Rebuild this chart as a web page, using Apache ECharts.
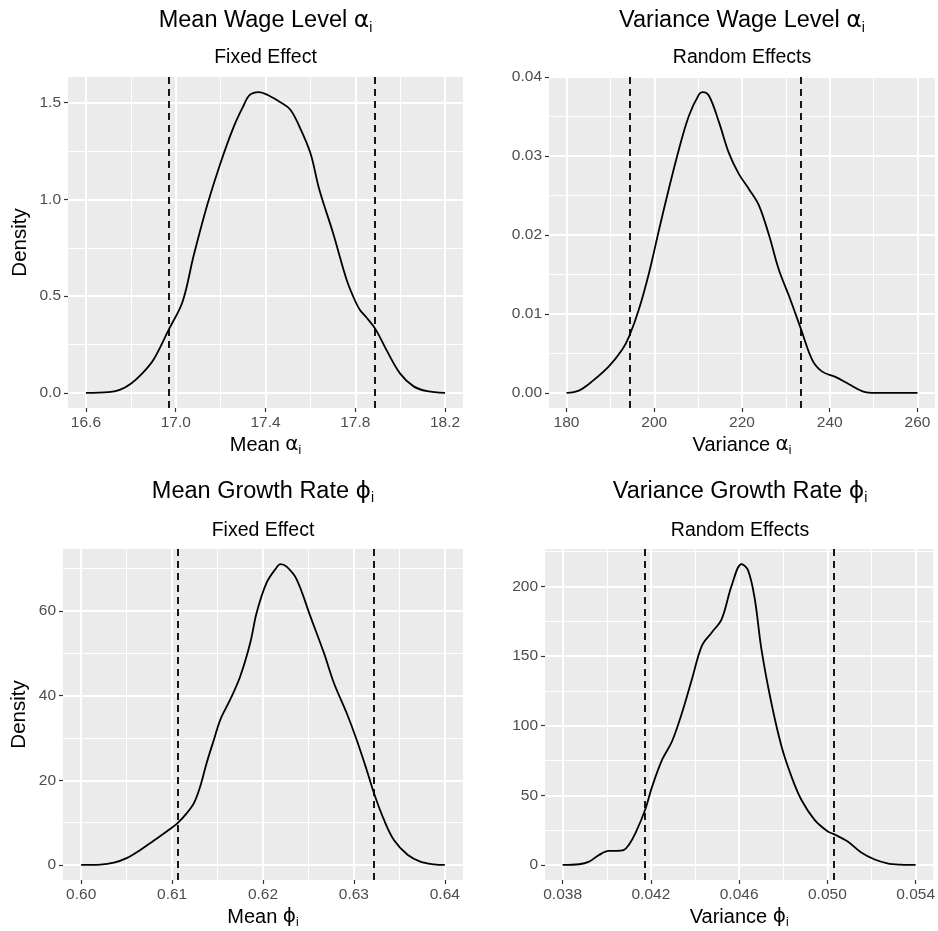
<!DOCTYPE html>
<html><head><meta charset="utf-8">
<script src="https://cdn.jsdelivr.net/npm/echarts@6/dist/echarts.min.js"></script>
<style>html,body{margin:0;padding:0;background:#fff}#chart{width:938px;height:931px}</style>
</head><body><div id="chart"></div>
<script>
// ---------- DATA ----------
const meanWageDensity = [[16.60,0],[16.70,0.004],[16.75,0.016],[16.80,0.048],[16.85,0.10],[16.90,0.17],[16.97,0.33],[17.03,0.47],[17.08,0.71],[17.14,0.97],[17.20,1.19],[17.26,1.38],[17.30,1.48],[17.33,1.54],[17.37,1.555],[17.41,1.54],[17.47,1.50],[17.51,1.465],[17.55,1.38],[17.60,1.24],[17.64,1.05],[17.70,0.83],[17.76,0.59],[17.79,0.50],[17.82,0.43],[17.85,0.39],[17.89,0.33],[17.94,0.22],[18.00,0.10],[18.06,0.034],[18.12,0.009],[18.20,0]];
const meanWageInterval = [16.971, 17.889];
const meanWageXTicks = [16.6, 17.0, 17.4, 17.8, 18.2];
const meanWageXMinor = [16.8, 17.2, 17.6, 18.0];
const meanWageYTicks = [0, 0.5, 1.0, 1.5];
const meanWageYMinor = [0.25, 0.75, 1.25];

const varWageDensity = [[180,0],[182.8,0.0003],[185.9,0.0015],[189.7,0.0034],[192.7,0.0055],[194.3,0.0072],[196.5,0.0106],[198.8,0.0152],[201.1,0.0207],[203.3,0.0258],[205.6,0.0308],[207.9,0.0351],[210.2,0.0378],[211.0,0.0381],[212.5,0.0376],[214.8,0.0342],[217.0,0.0304],[219.3,0.0277],[221.6,0.0258],[223.9,0.0237],[226.2,0.0199],[228.4,0.0156],[230.7,0.0123],[233.5,0.0080],[236.0,0.0042],[238.3,0.0027],[241.4,0.0020],[244.4,0.0011],[247.5,0.0002],[250.5,0],[260,0]];
const varWageInterval = [194.3, 233.5];
const varWageXTicks = [180, 200, 220, 240, 260];
const varWageXMinor = [190, 210, 230, 250];
const varWageYTicks = [0, 0.01, 0.02, 0.03, 0.04];
const varWageYMinor = [0.005, 0.015, 0.025, 0.035];

const meanGrowthDensity = [[0.600,0],[0.6021,0.08],[0.6036,0.55],[0.6050,1.6],[0.6065,3.55],[0.6080,5.8],[0.6094,7.9],[0.6106,9.9],[0.6116,12.2],[0.6124,14.6],[0.6131,18.6],[0.6138,24.1],[0.6146,29.6],[0.6153,34.3],[0.6164,39.1],[0.6175,44.6],[0.6186,52.5],[0.6193,59.6],[0.6204,66.7],[0.6215,70.3],[0.6219,71.1],[0.6226,70.5],[0.6237,67.5],[0.6252,58.8],[0.6267,50.1],[0.6278,43.0],[0.6292,35.9],[0.6303,29.6],[0.6314,22.5],[0.6322,17.0],[0.6333,10.7],[0.6344,5.9],[0.6359,2.4],[0.6373,0.8],[0.6388,0.16],[0.640,0]];
const meanGrowthInterval = [0.6106, 0.6322];
const meanGrowthXTicks = [0.60, 0.61, 0.62, 0.63, 0.64];
const meanGrowthXMinor = [0.605, 0.615, 0.625, 0.635];
const meanGrowthYTicks = [0, 20, 40, 60];
const meanGrowthYMinor = [10, 30, 50, 70];

const varGrowthDensity = [[0.0380,0],[0.03875,0.5],[0.0392,2.4],[0.03965,7.2],[0.0401,10.1],[0.0404,10.1],[0.04078,10.8],[0.0410,14.4],[0.0413,22.8],[0.04174,39.6],[0.04206,56.4],[0.04251,75.6],[0.04296,88.8],[0.04341,109.2],[0.04386,133.3],[0.04431,157.3],[0.04476,166.9],[0.04521,176.5],[0.04566,200.5],[0.04611,216],[0.04641,211.3],[0.04671,190.9],[0.04701,154.9],[0.04746,116.4],[0.04792,85.2],[0.04837,63.6],[0.04882,46.8],[0.04942,32.4],[0.05002,24],[0.05027,22.3],[0.05092,16.8],[0.05152,9.1],[0.05212,4.1],[0.05272,1.2],[0.05332,0.24],[0.0540,0]];
const varGrowthInterval = [0.04174, 0.05028];
const varGrowthXTicks = [0.038, 0.042, 0.046, 0.050, 0.054];
const varGrowthXMinor = [0.040, 0.044, 0.048, 0.052];
const varGrowthYTicks = [0, 50, 100, 150, 200];
const varGrowthYMinor = [25, 75, 125, 175, 225];

const panelTitles = ['Mean Wage Level {g|α}{s|i}', 'Variance Wage Level {g|α}{s|i}', 'Mean Growth Rate {g|ϕ}{s|i}', 'Variance Growth Rate {g|ϕ}{s|i}'];
const panelSubtitles = ['Fixed Effect', 'Random Effects', 'Fixed Effect', 'Random Effects'];
const xAxisTitles = ['Mean {g|α}{s|i}', 'Variance {g|α}{s|i}', 'Mean {g|ϕ}{s|i}', 'Variance {g|ϕ}{s|i}'];
const yAxisTitles = ['Density', '', 'Density', ''];

// ---------- LAYOUT / STYLE ----------
const FONT = '"Liberation Sans", Arial, Helvetica, sans-serif';
const layout = [
  {grid:{left:68, top:77, width:395, height:331}, titleTop:7, subTop:46, xDec:1, yDec:1, yNameGap:37},
  {grid:{left:549, top:77, width:386, height:331}, titleTop:7, subTop:46, xDec:0, yDec:2, yNameGap:37},
  {grid:{left:63, top:549, width:400, height:331}, titleTop:477.5, subTop:519, xDec:2, yDec:0, yNameGap:33},
  {grid:{left:545, top:549, width:390, height:331}, titleTop:477.5, subTop:519, xDec:3, yDec:0, yNameGap:33}
];
const panelData = [
  {d:meanWageDensity, ci:meanWageInterval, xt:meanWageXTicks, xm:meanWageXMinor, yt:meanWageYTicks, ym:meanWageYMinor},
  {d:varWageDensity, ci:varWageInterval, xt:varWageXTicks, xm:varWageXMinor, yt:varWageYTicks, ym:varWageYMinor},
  {d:meanGrowthDensity, ci:meanGrowthInterval, xt:meanGrowthXTicks, xm:meanGrowthXMinor, yt:meanGrowthYTicks, ym:meanGrowthYMinor},
  {d:varGrowthDensity, ci:varGrowthInterval, xt:varGrowthXTicks, xm:varGrowthXMinor, yt:varGrowthYTicks, ym:varGrowthYMinor}
];

function richFor(size, lh){
  return {
    g:{fontSize:size, fontFamily:'"DejaVu Sans", sans-serif', color:'#000', lineHeight:lh, verticalAlign:'middle'},
    s:{fontSize:Math.round(size*0.6), fontFamily:FONT, color:'#000', lineHeight:Math.round(size*0.6), verticalAlign:'bottom'}
  };
}

const grids = [], xAxes = [], yAxes = [], series = [], titles = [];
panelData.forEach((p, i) => {
  const L = layout[i];
  const xs = p.d.map(v => v[0]), ys = p.d.map(v => v[1]);
  const xmin = Math.min(...xs), xmax = Math.max(...xs);
  const ymin = Math.min(0, ...ys), ymax = Math.max(...ys);
  const xe = (xmax - xmin) * 0.05, ye = (ymax - ymin) * 0.05;
  const xr = [xmin - xe, xmax + xe], yr = [ymin - ye, ymax + ye];
  const cx = L.grid.left + L.grid.width / 2;
  grids.push(Object.assign({show:true, backgroundColor:'#EBEBEB', borderWidth:0}, L.grid));
  titles.push({text:panelTitles[i], left:cx, top:L.titleTop, textAlign:'center', padding:0,
    textStyle:{fontSize:23.5, lineHeight:28, fontWeight:'normal', color:'#000', fontFamily:FONT, rich:richFor(23.5, 28)}});
  titles.push({text:panelSubtitles[i], left:cx, top:L.subTop, textAlign:'center', padding:0,
    textStyle:{fontSize:19.5, lineHeight:23, fontWeight:'normal', color:'#000', fontFamily:FONT}});
  // major x
  xAxes.push({type:'value', gridIndex:i, min:xr[0], max:xr[1], position:'bottom',
    axisLine:{show:false, onZero:false},
    axisTick:{show:true, length:4, lineStyle:{color:'#333333', width:1.2}, customValues:p.xt},
    axisLabel:{show:true, customValues:p.xt, color:'#4D4D4D', fontSize:15.5, fontFamily:FONT, margin:7,
      formatter:v => Number(v).toFixed(L.xDec)},
    splitLine:{show:true, lineStyle:{color:'#FFFFFF', width:2}},
    name:xAxisTitles[i], nameLocation:'middle', nameGap:25,
    nameTextStyle:{fontSize:20, lineHeight:24, color:'#000', fontFamily:FONT, rich:richFor(20, 24)}
  });
  // minor x
  xAxes.push({type:'value', gridIndex:i, min:xr[0], max:xr[1],
    axisLine:{show:false, onZero:false}, axisTick:{show:false, customValues:p.xm}, axisLabel:{show:false, customValues:p.xm},
    splitLine:{show:true, lineStyle:{color:'#FFFFFF', width:1}}});
  // major y
  yAxes.push({type:'value', gridIndex:i, min:yr[0], max:yr[1], position:'left',
    axisLine:{show:false, onZero:false},
    axisTick:{show:true, length:4, lineStyle:{color:'#333333', width:1.2}, customValues:p.yt},
    axisLabel:{show:true, customValues:p.yt, color:'#4D4D4D', fontSize:15.5, fontFamily:FONT, margin:7,
      formatter:v => Number(v).toFixed(L.yDec)},
    splitLine:{show:true, lineStyle:{color:'#FFFFFF', width:2}},
    name:yAxisTitles[i], nameLocation:'middle', nameGap:L.yNameGap,
    nameTextStyle:{fontSize:20.5, color:'#000', fontFamily:FONT}
  });
  // minor y
  yAxes.push({type:'value', gridIndex:i, min:yr[0], max:yr[1],
    axisLine:{show:false, onZero:false}, axisTick:{show:false, customValues:p.ym}, axisLabel:{show:false, customValues:p.ym},
    splitLine:{show:true, lineStyle:{color:'#FFFFFF', width:1}}});
  series.push({type:'line', xAxisIndex:2*i, yAxisIndex:2*i, data:p.d, symbol:'none', smooth:0.35,
    lineStyle:{color:'#000', width:1.8}, silent:true, z:3,
    markLine:{silent:true, precision:6, symbol:['none','none'], label:{show:false},
      lineStyle:{color:'#000', width:1.8, type:[7,5]},
      data:p.ci.map(v => ({xAxis:v}))}
  });
});

const chart = echarts.init(document.getElementById('chart'), null, {renderer:'canvas'});
chart.setOption({animation:false, backgroundColor:'#FFFFFF', title:titles, grid:grids, xAxis:xAxes, yAxis:yAxes, series:series});
</script></body></html>
